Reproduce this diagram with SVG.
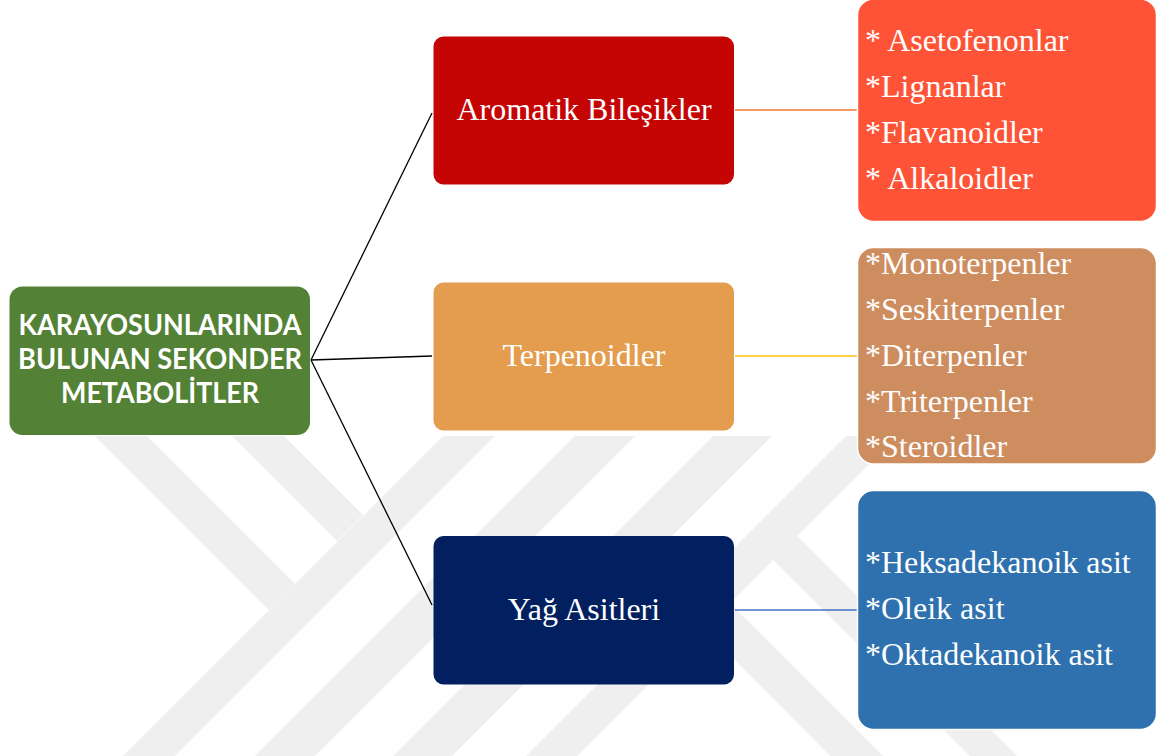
<svg xmlns="http://www.w3.org/2000/svg" width="1157" height="756" viewBox="0 0 1157 756">
  <defs>
    <clipPath id="wmclip"><rect x="0" y="436" width="1157" height="320"/></clipPath>
    <style>
      .wm { fill: #efefef; }
      .conn { fill: none; stroke: #000000; stroke-width: 1.3; }
      .mid { font-family: "Liberation Serif", "Times New Roman", serif; font-size: 32px; fill: #ffffff; text-anchor: middle; }
      .list { font-family: "Liberation Serif", "Times New Roman", serif; font-size: 32px; fill: #ffffff; }
      .root { font-family: Lato, "Liberation Sans", sans-serif; font-weight: bold; font-size: 29px; fill: #ffffff; text-anchor: middle; }
      .rbox { stroke: #ffffff; stroke-width: 1.5; }
    </style>
  </defs>
  <rect width="1157" height="756" fill="#ffffff"/>
  <g id="watermark" clip-path="url(#wmclip)">
    <polygon class="wm" points="443,436 495,436 175,756 123,756"/>
    <polygon class="wm" points="575,436 635,436 315,756 255,756"/>
    <polygon class="wm" points="713,436 772,436 452,756 393,756"/>
    <polygon class="wm" points="846,436 897,436 577,756 526,756"/>
    <polygon class="wm" points="95,436 147,436 295,584 269,610"/>
    <polygon class="wm" points="232,436 284,436 363,515 337,541"/>
    <polygon class="wm" points="704,629 730,603 890,763 837,763"/>
    <polygon class="wm" points="773,560 797,536 1024,763 977,763"/>
  </g>
  <g id="connectors">
    <line class="conn" x1="311" y1="360" x2="432" y2="113"/>
    <line class="conn" x1="311" y1="360" x2="432" y2="356"/>
    <line class="conn" x1="311" y1="360" x2="432" y2="605"/>
    <line x1="735" y1="110" x2="857" y2="110" stroke="#ED7D31" stroke-width="1.3"/>
    <line x1="735" y1="356" x2="857" y2="356" stroke="#FFC000" stroke-width="1.3"/>
    <line x1="735" y1="610" x2="857" y2="610" stroke="#4472C4" stroke-width="1.3"/>
  </g>
  <g id="root">
    <rect x="9.5" y="286.5" width="300.5" height="148.5" rx="13" fill="#538135"/>
    <text class="root" x="160" y="335" textLength="283" lengthAdjust="spacingAndGlyphs">KARAYOSUNLARINDA</text>
    <text class="root" x="160" y="369" textLength="284" lengthAdjust="spacingAndGlyphs">BULUNAN SEKONDER</text>
    <text class="root" x="160" y="403" textLength="198" lengthAdjust="spacingAndGlyphs">METABOLİTLER</text>
  </g>
  <g id="aromatik">
    <rect x="433.5" y="36.5" width="300.5" height="148" rx="10" fill="#C50404"/>
    <text class="mid" x="584" y="119.5">Aromatik Bileşikler</text>
  </g>
  <g id="terpenoidler">
    <rect x="433.5" y="282.5" width="300.5" height="148" rx="10" fill="#E49C4E"/>
    <text class="mid" x="584" y="366">Terpenoidler</text>
  </g>
  <g id="yag">
    <rect x="433.5" y="536" width="300.5" height="148.5" rx="10" fill="#02205F"/>
    <text class="mid" x="584" y="620">Yağ Asitleri</text>
  </g>
  <g id="aromatik-list">
    <rect class="rbox" x="857.5" y="-1" width="299" height="222.5" rx="16" fill="#FE5336"/>
    <text class="list" x="865" y="50.5">* Asetofenonlar</text>
    <text class="list" x="865" y="96.5">*Lignanlar</text>
    <text class="list" x="865" y="142.5">*Flavanoidler</text>
    <text class="list" x="865" y="188.5">* Alkaloidler</text>
  </g>
  <g id="terpenoid-list">
    <rect class="rbox" x="857.5" y="247.5" width="299" height="216.5" rx="16" fill="#CE8D5F"/>
    <text class="list" x="865" y="273.5">*Monoterpenler</text>
    <text class="list" x="865" y="319.5">*Seskiterpenler</text>
    <text class="list" x="865" y="365.5">*Diterpenler</text>
    <text class="list" x="865" y="411.5">*Triterpenler</text>
    <text class="list" x="865" y="457">*Steroidler</text>
  </g>
  <g id="yag-list">
    <rect class="rbox" x="857.5" y="490.5" width="299" height="239" rx="16" fill="#2E71AE"/>
    <text class="list" x="865" y="573">*Heksadekanoik asit</text>
    <text class="list" x="865" y="619">*Oleik asit</text>
    <text class="list" x="865" y="665">*Oktadekanoik asit</text>
  </g>
</svg>
